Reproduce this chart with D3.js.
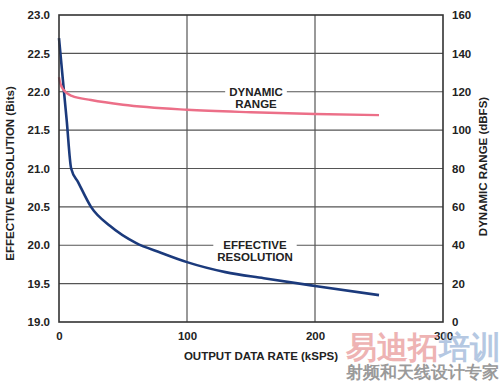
<!DOCTYPE html>
<html><head><meta charset="utf-8">
<script src="https://cdn.jsdelivr.net/npm/d3@7"></script>
<style>body{margin:0;background:#fff}svg{display:block}text{font-family:"Liberation Sans",Arial,sans-serif;font-weight:bold}</style>
</head><body>
<svg id="c" width="500" height="382"></svg>
<script>
// Data
const rateRes = [0, 3, 6, 9.5, 15, 25, 40, 60, 80, 100, 130, 160, 200, 250];
const effRes  = [22.7, 22.16, 21.63, 21.0, 20.82, 20.5, 20.25, 20.03, 19.9, 19.78, 19.65, 19.57, 19.47, 19.35];
const rateDR = [0, 1, 3, 10, 25, 50, 100, 150, 200, 250];
const dynRange = [127.5, 124.5, 121.5, 117.8, 115.7, 113.2, 110.6, 109.3, 108.4, 107.8];
const xTicks = [0, 100, 200, 300];
const yLeftTicks = [19.0, 19.5, 20.0, 20.5, 21.0, 21.5, 22.0, 22.5, 23.0];
const yRightTicks = [0, 20, 40, 60, 80, 100, 120, 140, 160];

const svg = d3.select("#c");
const L = 59, R = 443, T = 15, B = 322;
const x = d3.scaleLinear().domain([0, 300]).range([L, R]);
const yL = d3.scaleLinear().domain([19, 23]).range([B, T]);
const yR = d3.scaleLinear().domain([0, 160]).range([B, T]);
const ink = "#222";

// gridlines
const g = svg.append("g");
g.selectAll(".h").data(yLeftTicks.slice(1, -1)).join("line")
  .attr("x1", L).attr("x2", R).attr("y1", d => yL(d)).attr("y2", d => yL(d))
  .attr("stroke", "#555").attr("stroke-width", 1.2);
g.selectAll(".v").data(xTicks.slice(1, -1)).join("line")
  .attr("y1", T).attr("y2", B).attr("x1", d => x(d)).attr("x2", d => x(d))
  .attr("stroke", "#555").attr("stroke-width", 1.2);

// axes (labels only)
const axL = d3.axisLeft(yL).tickValues(yLeftTicks).tickFormat(d3.format(".1f")).tickSize(0).tickPadding(9);
const axR = d3.axisRight(yR).tickValues(yRightTicks).tickSize(0).tickPadding(9);
const axB = d3.axisBottom(x).tickValues(xTicks).tickSize(0).tickPadding(10);
function style(sel){ sel.select(".domain").remove(); sel.selectAll("text").attr("font-size", 11.5).attr("font-family", "Liberation Sans, Arial").attr("font-weight", "bold").style("fill", ink); }
svg.append("g").attr("transform", `translate(${L},0)`).call(axL).call(style);
svg.append("g").attr("transform", `translate(${R},0)`).call(axR).call(style);
svg.append("g").attr("transform", `translate(0,${B})`).call(axB).call(style);

// labels on chart with white background
function label(lines, cx, cy) {
  const gg = svg.append("g");
  const bg = gg.append("rect").attr("fill", "#fff");
  const t = gg.append("text").attr("text-anchor", "middle").attr("font-size", 11.5).style("fill", ink);
  lines.forEach((s, i) => t.append("tspan").attr("x", cx).attr("y", cy + i * 12).text(s));
  const bb = t.node().getBBox();
  bg.attr("x", bb.x - 4).attr("y", bb.y - 1).attr("width", bb.width + 8).attr("height", bb.height + 2);
}
label(["DYNAMIC", "RANGE"], 256, 96);
label(["EFFECTIVE", "RESOLUTION"], 255, 249);

// curves
const lineRes = d3.line().x((d, i) => x(rateRes[i])).y(d => yL(d)).curve(d3.curveMonotoneX);
svg.append("path").attr("d", lineRes(effRes)).attr("fill", "none").attr("stroke", "#1b3a7c").attr("stroke-width", 2.6);
const lineDR = d3.line().x((d, i) => x(rateDR[i])).y(d => yR(d)).curve(d3.curveMonotoneX);
svg.append("path").attr("d", lineDR(dynRange)).attr("fill", "none").attr("stroke", "#ec6f88").attr("stroke-width", 2.4);

// frame
svg.append("rect").attr("x", L).attr("y", T).attr("width", R - L).attr("height", B - T)
  .attr("fill", "none").attr("stroke", "#333").attr("stroke-width", 1.6);

// axis titles
svg.append("text").attr("transform", `translate(14,${(T + B) / 2 + 5}) rotate(-90)`).attr("text-anchor", "middle")
  .attr("font-size", 11.5).style("fill", ink).text("EFFECTIVE RESOLUTION (Bits)");
svg.append("text").attr("transform", `translate(487,${(T + B) / 2 - 2}) rotate(-90)`).attr("text-anchor", "middle")
  .attr("font-size", 11.5).style("fill", ink).text("DYNAMIC RANGE (dBFS)");
svg.append("text").attr("x", 261).attr("y", 360).attr("text-anchor", "middle")
  .attr("font-size", 11.5).style("fill", ink).text("OUTPUT DATA RATE (kSPS)");

// watermark
const wm = svg.append("text").attr("x", 346).attr("y", 358).attr("font-size", 31)
  .attr("font-family", "Noto Sans CJK SC").attr("font-weight", "bold").style("opacity", 0.75);
wm.append("tspan").style("fill", "#e99a9a").text("易迪拓");
wm.append("tspan").style("fill", "#9db6d9").text("培训");
svg.append("text").attr("x", 346).attr("y", 378).attr("font-size", 16.5)
  .attr("font-family", "Noto Sans CJK SC").attr("font-weight", "normal").style("fill", "#9a9a9a").text("射频和天线设计专家");
</script>
</body></html>
